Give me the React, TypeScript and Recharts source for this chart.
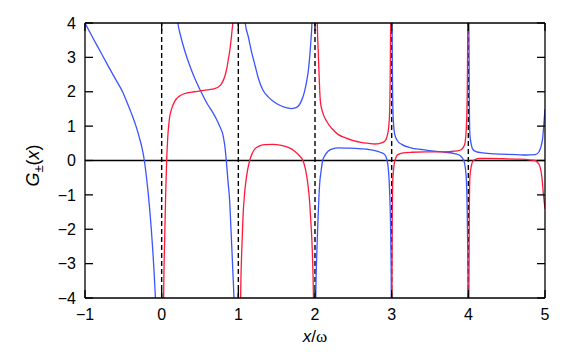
import { LineChart, Line, XAxis, YAxis, ReferenceLine, Label } from "recharts";

type Pt = [number, number];

const xTicks = [-1, 0, 1, 2, 3, 4, 5];
const yTicks = [-4, -3, -2, -1, 0, 1, 2, 3, 4];
const poles = [0, 1, 2, 3, 4];

// G+ / G- branches, one array per branch between poles
const blue1: Pt[] = [
  [-1, 4.0], [-0.9, 3.58], [-0.8, 3.17], [-0.7, 2.76], [-0.6, 2.36], [-0.51, 2.0],
  [-0.45, 1.68], [-0.4, 1.4], [-0.335, 1.0], [-0.29, 0.66], [-0.255, 0.35], [-0.226, 0],
  [-0.2, -0.45], [-0.178, -0.9], [-0.155, -1.45], [-0.135, -2.0], [-0.115, -2.65],
  [-0.1, -3.2], [-0.087, -3.75], [-0.078, -4.2], [-0.065, -5.2],
];
const blue2: Pt[] = [
  [0.1, 7], [0.17, 4.7], [0.21, 4.0], [0.25, 3.6], [0.3, 3.2], [0.36, 2.8], [0.43, 2.4],
  [0.52, 1.97], [0.6, 1.63], [0.66, 1.42], [0.71, 1.22], [0.76, 0.98], [0.8, 0.74],
  [0.825, 0.4], [0.843, 0], [0.865, -0.6], [0.887, -1.18], [0.9, -1.8], [0.917, -2.64],
  [0.93, -3.3], [0.943, -4], [0.955, -5], [0.97, -7],
];
const blue3: Pt[] = [
  [1.05, 7], [1.08, 4.6], [1.09, 4.0], [1.13, 3.6], [1.17, 3.18], [1.22, 2.75], [1.26, 2.4],
  [1.32, 2.05], [1.39, 1.85], [1.45, 1.73], [1.52, 1.63], [1.6, 1.55], [1.69, 1.51],
  [1.74, 1.53], [1.78, 1.58], [1.82, 1.72], [1.865, 2.02], [1.895, 2.35], [1.917, 2.69],
  [1.943, 3.37], [1.96, 4], [1.975, 5.2], [1.985, 7],
];
const blue4: Pt[] = [
  [2.0, -8], [2.01, -4], [2.025, -2.6], [2.04, -1.67], [2.06, -0.7], [2.08, -0.3], [2.1, 0],
  [2.13, 0.15], [2.17, 0.27], [2.23, 0.34], [2.3, 0.37], [2.45, 0.36], [2.6, 0.34],
  [2.7, 0.32], [2.78, 0.29], [2.85, 0.24], [2.91, 0.17], [2.935, 0.05], [2.95, -0.12],
  [2.965, -0.5], [2.975, -1.0], [2.985, -1.8], [2.99, -2.6], [2.996, -4], [3.0, -8],
];
const blue5: Pt[] = [
  [3.0, 8], [3.005, 4], [3.012, 2], [3.02, 1.24], [3.04, 0.76], [3.08, 0.56], [3.13, 0.47],
  [3.25, 0.37], [3.39, 0.32], [3.55, 0.27], [3.7, 0.24], [3.82, 0.2], [3.9, 0.13],
  [3.94, 0.0], [3.96, -0.2], [3.975, -0.6], [3.985, -1.4], [3.992, -2.6], [3.997, -4],
  [4.0, -8],
];
const blue6: Pt[] = [
  [4.0, 8], [4.007, 4], [4.012, 2], [4.02, 0.76], [4.04, 0.45], [4.06, 0.32], [4.1, 0.26],
  [4.19, 0.22], [4.35, 0.19], [4.5, 0.18], [4.63, 0.17], [4.75, 0.16], [4.87, 0.17],
  [4.9, 0.2], [4.925, 0.27], [4.95, 0.42], [4.97, 0.66], [4.985, 1.05], [5.0, 1.5],
];

const red1: Pt[] = [
  [0.02, -6], [0.026, -4], [0.04, -2.2], [0.052, -1.0], [0.065, 0], [0.08, 0.7], [0.1, 1.2],
  [0.13, 1.5], [0.17, 1.72], [0.23, 1.87], [0.32, 1.96], [0.42, 2.0], [0.52, 2.03],
  [0.62, 2.06], [0.69, 2.09], [0.74, 2.14], [0.78, 2.23], [0.82, 2.42], [0.85, 2.68],
  [0.87, 2.95], [0.89, 3.22], [0.905, 3.5], [0.917, 3.76], [0.93, 4.05], [0.945, 4.8],
  [0.96, 6],
];
const red2: Pt[] = [
  [1.02, -7], [1.03, -4], [1.045, -2.6], [1.06, -1.67], [1.08, -1.0], [1.105, -0.5],
  [1.148, 0], [1.18, 0.2], [1.21, 0.32], [1.27, 0.42], [1.343, 0.46], [1.45, 0.47],
  [1.56, 0.44], [1.65, 0.38], [1.735, 0.27], [1.8, 0.13], [1.843, 0], [1.88, -0.3],
  [1.908, -0.7], [1.93, -1.2], [1.943, -1.67], [1.965, -2.64], [1.98, -4], [1.99, -6],
];
const red3: Pt[] = [
  [2.02, 8], [2.03, 4], [2.04, 3.3], [2.05, 2.69], [2.07, 1.72], [2.1, 1.4], [2.15, 1.15],
  [2.22, 0.93], [2.3, 0.76], [2.4, 0.66], [2.5, 0.58], [2.6, 0.53], [2.7, 0.5], [2.78, 0.48],
  [2.85, 0.5], [2.91, 0.56], [2.94, 0.7], [2.96, 0.95], [2.975, 1.5], [2.98, 2.2],
  [2.987, 4], [2.995, 8],
];
const red4: Pt[] = [
  [3.0, -8], [3.003, -4], [3.008, -1.5], [3.012, -0.7], [3.03, -0.16], [3.05, 0.05],
  [3.08, 0.17], [3.15, 0.22], [3.26, 0.24], [3.45, 0.25], [3.6, 0.25], [3.76, 0.26],
  [3.86, 0.28], [3.91, 0.32], [3.95, 0.45], [3.97, 0.8], [3.98, 1.3], [3.987, 2.2],
  [3.993, 4], [3.998, 8],
];
const red5: Pt[] = [
  [4.0, -8], [4.007, -4], [4.012, -1.8], [4.02, -0.5], [4.04, -0.15], [4.06, -0.02],
  [4.1, 0.04], [4.15, 0.06], [4.3, 0.06], [4.5, 0.05], [4.63, 0.04], [4.75, 0.03],
  [4.87, 0.0], [4.9, -0.05], [4.925, -0.12], [4.96, -0.5], [4.98, -1.0], [5.0, -1.4],
];

const blueBranches = [blue1, blue2, blue3, blue4, blue5, blue6];
const redBranches = [red1, red2, red3, red4, red5];

const BLUE = "#3a55ff";
const RED = "#ff1a3c";
const FONT = "'Liberation Sans', Arial, sans-serif";

const toRows = (pts: Pt[]) => pts.map(([x, y]) => ({ x, y }));

const noLabel = () => "";
const signed = (v: number) => (v < 0 ? `\u2212${-v}` : `${v}`);

export default function App() {
  return (
    <LineChart
      width={573}
      height={346}
      margin={{ top: 14, right: 35, bottom: 16, left: 17 }}
      style={{ fontFamily: FONT }}
    >
      <XAxis
        xAxisId="b"
        dataKey="x"
        type="number"
        domain={[-1, 5]}
        ticks={xTicks}
        interval={0}
        allowDataOverflow
        height={40}
        tickSize={-8}
        tickMargin={19}
        stroke="#000"
        strokeWidth={1.3}
        tick={{ fill: "#000", fontSize: 16 }}
        tickFormatter={signed}
      >
        <Label
          content={({ viewBox }: any) => (
            <text
              x={viewBox.x + viewBox.width / 2}
              y={viewBox.y + 44}
              textAnchor="middle"
              fontSize={17}
              fill="#000"
            >
              <tspan fontStyle="italic">x</tspan>
              <tspan>/</tspan>
              <tspan fontFamily="'Liberation Serif', serif">ω</tspan>
            </text>
          )}
        />
      </XAxis>
      <XAxis
        xAxisId="t"
        orientation="top"
        dataKey="x"
        type="number"
        domain={[-1, 5]}
        ticks={xTicks}
        interval={0}
        allowDataOverflow
        height={1}
        tickSize={-8}
        stroke="#000"
        strokeWidth={1.3}
        tickFormatter={noLabel}
      />
      <YAxis
        yAxisId="l"
        type="number"
        domain={[-4, 4]}
        ticks={yTicks}
        interval={0}
        allowDataOverflow
        width={60}
        tickSize={-8}
        tickMargin={17}
        stroke="#000"
        strokeWidth={1.3}
        tick={{ fill: "#000", fontSize: 16 }}
        tickFormatter={signed}
      >
        <Label
          content={({ viewBox }: any) => {
            const cx = viewBox.x + viewBox.width - 46;
            const cy = viewBox.y + viewBox.height / 2 + 5;
            return (
              <text
                x={cx}
                y={cy}
                textAnchor="middle"
                fontSize={18}
                fill="#000"
                transform={`rotate(-90, ${cx}, ${cy})`}
              >
                <tspan fontStyle="italic">G</tspan>
                <tspan fontSize={13} dy={4}>±</tspan>
                <tspan dy={-4}>(</tspan>
                <tspan fontStyle="italic">x</tspan>
                <tspan>)</tspan>
              </text>
            );
          }}
        />
      </YAxis>
      <YAxis
        yAxisId="r"
        orientation="right"
        type="number"
        domain={[-4, 4]}
        ticks={yTicks}
        interval={0}
        allowDataOverflow
        width={1}
        tickSize={-8}
        stroke="#000"
        strokeWidth={1.3}
        tickFormatter={noLabel}
      />
      <ReferenceLine xAxisId="b" yAxisId="l" y={0} stroke="#000" strokeWidth={1.3} />
      {poles.map((p) => (
        <ReferenceLine
          key={p}
          xAxisId="b"
          yAxisId="l"
          x={p}
          stroke="#000"
          strokeWidth={1.4}
          strokeDasharray="5 3"
        />
      ))}
      {blueBranches.map((b, i) => (
        <Line
          key={`b${i}`}
          xAxisId="b"
          yAxisId="l"
          data={toRows(b)}
          dataKey="y"
          type="monotone"
          stroke={BLUE}
          strokeWidth={1.3}
          dot={false}
          isAnimationActive={false}
        />
      ))}
      {redBranches.map((r, i) => (
        <Line
          key={`r${i}`}
          xAxisId="b"
          yAxisId="l"
          data={toRows(r)}
          dataKey="y"
          type="monotone"
          stroke={RED}
          strokeWidth={1.3}
          dot={false}
          isAnimationActive={false}
        />
      ))}
    </LineChart>
  );
}
